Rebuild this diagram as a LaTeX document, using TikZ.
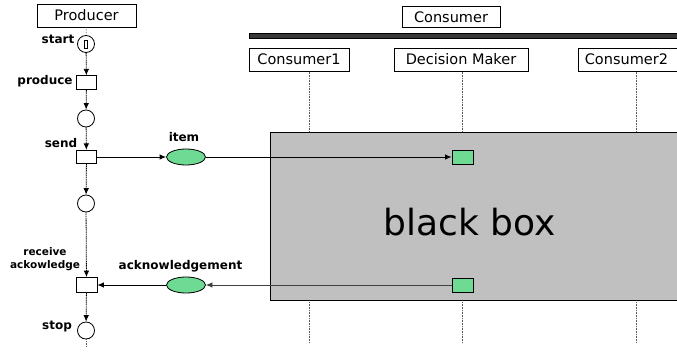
\documentclass[tikz,border=0pt]{standalone}
\usepackage{fontspec}
\setmainfont{DejaVu Sans}
\usetikzlibrary{arrows.meta,shapes.geometric}
\definecolor{pgreen}{RGB}{110,218,148}
\definecolor{bbgray}{RGB}{192,192,192}
\begin{document}
\begin{tikzpicture}[x=1pt,y=-1pt,
  lbox/.style={draw=black, fill=white, line width=0.8pt, inner sep=0pt, font=\fontsize{14.5}{16}\selectfont},
  place/.style={circle, draw, line width=0.8pt, minimum size=17pt, inner sep=0pt, fill=white},
  trans/.style={rectangle, draw, line width=0.8pt, minimum width=20pt, minimum height=13.5pt, inner sep=0pt, fill=white},
  msg/.style={ellipse, draw, fill=pgreen, line width=0.8pt, minimum width=39pt, minimum height=16pt, inner sep=0pt},
  gsq/.style={rectangle, draw, fill=pgreen, line width=0.8pt, minimum width=21pt, minimum height=14pt, inner sep=0pt},
  lab/.style={font=\fontsize{12}{14}\selectfont\bfseries, inner sep=0pt},
  slab/.style={font=\fontsize{10.5}{13}\selectfont\bfseries, inner sep=0pt, align=center},
  life/.style={densely dotted, line width=0.6pt, black!65},
  flow/.style={-{Latex[length=6.5pt,width=5.5pt]}, line width=0.8pt},
  vflow/.style={flow, dash pattern=on 1.2pt off 0.6pt}]
\useasboundingbox (0,0) rectangle (677,351);

% Consumer lifelines (behind)
\coordinate (l1a) at (309,71.5); \coordinate (l1b) at (309,343);
\coordinate (l2a) at (462,71.5); \coordinate (l2b) at (462,343);
\coordinate (l3a) at (636,71.5); \coordinate (l3b) at (636,343);
\draw[life] (l1a) -- (l1b);
\draw[life] (l2a) -- (l2b);
\draw[life] (l3a) -- (l3b);

% headers
\node[lbox, minimum width=99pt, minimum height=23pt] (prod) at (86.5,15.5) {Producer};
\node[lbox, minimum width=98pt, minimum height=20.5pt] (cons) at (451,17) {Consumer};
\node[fill=black!78, draw=black, line width=0.6pt, minimum width=432pt, minimum height=5pt, anchor=north west, inner sep=0pt] (bar) at (249,33) {};
\node[lbox, minimum width=100pt, minimum height=23pt] (c1) at (299,59.5) {Consumer1};
\node[lbox, minimum width=134pt, minimum height=23pt] (dm) at (461,59.5) {Decision Maker};
\node[lbox, minimum width=104pt, minimum height=23pt, anchor=west] (c2) at (578,59.5) {\hspace*{-8pt}Consumer2};

% black box
\node[draw, fill=bbgray, line width=0.8pt, minimum width=412pt, minimum height=168pt, anchor=north west, inner sep=0pt] (bb) at (270,132) {};
\node[font=\fontsize{36}{40}\selectfont, inner sep=0pt] (bbt) at (469.5,222) {black box};
\node[gsq] (g1) at (462.5,157) {};
\node[gsq] (g2) at (462.5,285) {};

% producer net
\node[place] (start) at (86,44) {};
\node[draw, line width=0.6pt, minimum width=3.5pt, minimum height=8pt, inner sep=0pt] (tok) at (86,44) {};
\node[trans] (produce) at (86.5,82.5) {};
\node[place] (p2) at (86,118.5) {};
\node[trans] (send) at (86.5,157) {};
\node[place] (p3) at (86,203.5) {};
\node[trans, minimum width=21pt, minimum height=15pt] (recv) at (86.5,285) {};
\node[place] (stop) at (86,330.5) {};
\node[msg] (item) at (186,157) {};
\node[msg] (ack) at (186,285) {};

\coordinate (pend) at (86,347);
\draw[life] (prod) -- (start);
\draw[life] (stop) -- (pend);

\draw[vflow] (start) -- (produce);
\draw[vflow] (produce) -- (p2);
\draw[vflow] (p2) -- (send);
\draw[vflow] (send) -- (p3);
\draw[vflow] (p3) -- (recv);
\draw[vflow] (recv) -- (stop);

\draw[flow] (send) -- (item);
\draw[flow] (item) -- (g1);
\draw[flow, black!75] (g2) -- (ack);
\draw[flow] (ack) -- (recv);

% labels
\node[lab] (lstart) at (58,39.5) {start};
\node[lab] (lprod) at (45,81.5) {produce};
\node[lab] (lsend) at (61,143) {send};
\node[lab] (litem) at (184,137.5) {item};
\node[slab] (lrecv) at (45,259) {receive\\ackowledge};
\node[lab] (lack) at (180.5,266) {acknowledgement};
\node[lab] (lstop) at (57,327) {stop};
\end{tikzpicture}
\end{document}
